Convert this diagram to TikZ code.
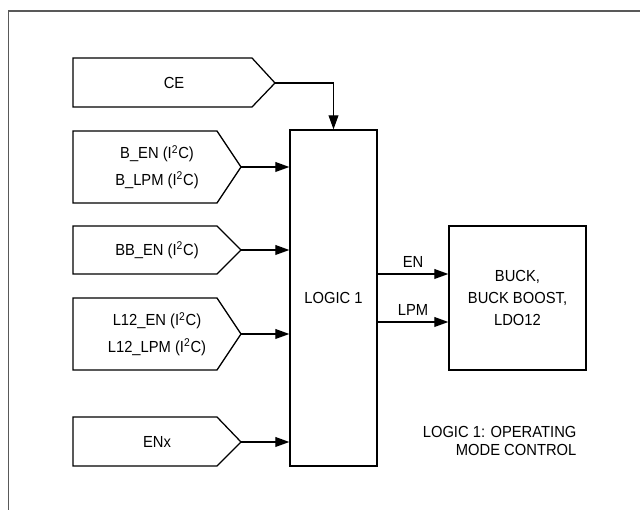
\documentclass[tikz,border=0pt]{standalone}
\usepackage{fontspec}
\setmainfont[FakeStretch=0.92]{Liberation Sans}
\usetikzlibrary{arrows.meta, calc, positioning}

\begin{document}
\begin{tikzpicture}[x=0.025cm, y=-0.025cm, line width=0.9pt,
  every node/.style={font=\fontsize{11.4}{19}\selectfont, inner sep=0pt},
  arr/.style={-{Triangle[length=10pt, width=7pt]}},
  blk/.style={draw, align=center}]
  \useasboundingbox (0,0) rectangle (640,510);
  % frame
  \draw[black!65, line width=1.4pt] (8.5,510) -- (8.5,11) -- (640,11);
  % input blocks
  \draw (73,58) -- (252,58) -- (275,83) -- (252,107) -- (73,107) -- cycle;
  \node (ce) at (174,83) {CE};
  \coordinate (tipce) at (275,83);
  \foreach \n/\t/\m/\b/\txt in {
      b/131/167/203/{B\_EN (I\textsuperscript{2}C)\\B\_LPM (I\textsuperscript{2}C)},
      bb/226/250/274/{BB\_EN (I\textsuperscript{2}C)},
      l/298/334/370/{L12\_EN (I\textsuperscript{2}C)\\L12\_LPM (I\textsuperscript{2}C)},
      enx/417/442/466/{ENx}}
  {
    \draw (73,\t) -- (217,\t) -- (241,\m) -- (217,\b) -- (73,\b) -- cycle;
    \node[align=center] (\n) at (157,\m) {\txt};
    \coordinate (tip\n) at (241,\m);
  }
  % logic and regulator blocks
  \node[blk, minimum width=2.175cm, minimum height=8.4cm] (logic) at (333.5,298) {LOGIC 1};
  \node[blk, minimum width=3.425cm, minimum height=3.6cm,
        font=\fontsize{11.4}{15.6}\selectfont] (buck) at (517.5,298) {BUCK,\\BUCK BOOST,\\LDO12};
  % inputs to logic
  \draw[arr] (tipce) -| (logic.north);
  \foreach \n in {b, bb, l, enx}
    \draw[arr] (tip\n) -- (tip\n -| logic.west);
  % outputs
  \coordinate (en) at (449,274);
  \coordinate (lpm) at (449,322);
  \draw[arr] (logic.east |- en) -- (buck.west |- en) node[midway, above=4.5pt] {EN};
  \draw[arr] (logic.east |- lpm) -- (buck.west |- lpm) node[midway, above=4.5pt] {LPM};
  % note
  \node[align=right, anchor=east, font=\fontsize{11.4}{13}\selectfont] (note) at (577,441)
    {LOGIC 1: OPERATING\\MODE CONTROL};
\end{tikzpicture}
\end{document}
